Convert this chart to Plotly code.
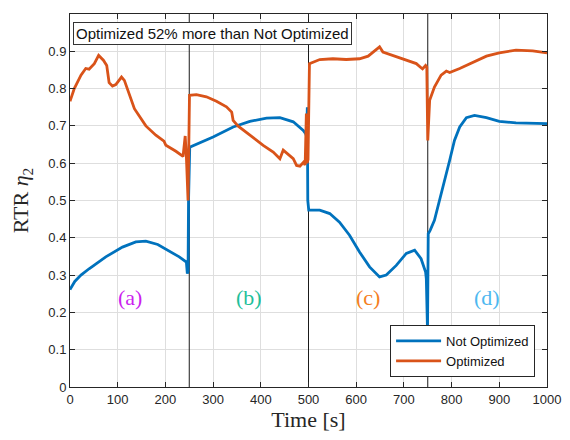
import plotly.graph_objects as go

# ---- data ----
t_not = [0, 10, 23, 40, 75, 110, 138, 159, 184, 208, 229, 244, 246, 247.5, 248.5, 251,
         300, 342, 377, 412, 440, 468, 489, 494, 496, 497.5, 498.5, 500.5,
         523.6, 544.5, 565, 586, 607, 628, 649, 663, 684, 705, 722.5, 736, 745.5, 747,
         748, 749.5, 751, 755, 764, 775, 785, 796, 806, 817, 831, 848, 873, 900, 935, 1000]
y_not = [0.261, 0.283, 0.300, 0.317, 0.349, 0.375, 0.389, 0.391, 0.382, 0.364, 0.349, 0.335, 0.304, 0.31, 0.50, 0.643,
         0.670, 0.697, 0.712, 0.721, 0.722, 0.711, 0.688, 0.679, 0.672, 0.75, 0.50, 0.474,
         0.474, 0.465, 0.442, 0.407, 0.362, 0.322, 0.295, 0.300, 0.326, 0.358, 0.367, 0.344, 0.308, 0.29,
         0.152, 0.15, 0.411, 0.42, 0.447, 0.50, 0.554, 0.608, 0.661, 0.697, 0.722, 0.728, 0.722, 0.712, 0.708, 0.706]

t_opt = [0, 9, 23, 33, 40, 51, 60, 70, 77, 82, 89, 96, 108, 114, 119, 135, 159, 180, 197, 201, 222, 237,
         241.5, 244, 247.5, 249, 250.5, 265, 286, 307, 328, 339, 342, 352, 377, 405, 426, 440, 447, 457,
         468, 475, 482, 490, 493, 495.5, 497, 499, 500.5, 502, 523.6, 551, 579, 607, 625, 639, 649, 656,
         677, 705, 726, 736, 739, 745.5, 748, 750, 754, 764, 778, 789, 796, 817, 845, 873, 900, 935, 970, 1000]
y_opt = [0.766, 0.80, 0.836, 0.854, 0.852, 0.867, 0.889, 0.876, 0.862, 0.816, 0.807, 0.811, 0.831, 0.822, 0.804, 0.746, 0.70, 0.675, 0.659, 0.648, 0.632, 0.618,
         0.673, 0.617, 0.50, 0.62, 0.782, 0.784, 0.778, 0.766, 0.751, 0.737, 0.715, 0.70, 0.675, 0.648, 0.63, 0.612, 0.635, 0.624,
         0.612, 0.594, 0.592, 0.603, 0.595, 0.733, 0.60, 0.61, 0.865, 0.867, 0.878, 0.880, 0.878, 0.880, 0.887, 0.903, 0.912, 0.898,
         0.889, 0.878, 0.867, 0.856, 0.853, 0.862, 0.858, 0.661, 0.769, 0.804, 0.836, 0.847, 0.843, 0.854, 0.871, 0.887, 0.896, 0.903, 0.901, 0.896]

phase_bounds = [250, 500, 750]
phase_labels = ["(a)", "(b)", "(c)", "(d)"]
phase_label_t = [125, 375, 625, 875]
phase_label_y = 0.24
phase_colors = ["#CC1FF0", "#1FBF9A", "#F5801E", "#4DB8F0"]

x_ticks = list(range(0, 1001, 100))
y_ticks = [round(0.1 * i, 1) for i in range(11)]
y_ticktext = ["0"] + ["%.1f" % v for v in y_ticks[1:-1]] + ["1"]

note_text = "Optimized 52% more than Not Optimized"

fig = go.Figure()

for b in phase_bounds:
    fig.add_trace(go.Scatter(x=[b, b], y=[0, 1], mode="lines",
                             line=dict(color="#1a1a1a", width=1), showlegend=False,
                             hoverinfo="skip"))

fig.add_trace(go.Scatter(x=t_not, y=y_not, mode="lines", name="Not Optimized",
                         line=dict(color="#0072BD", width=2.8)))
fig.add_trace(go.Scatter(x=t_opt, y=y_opt, mode="lines", name="Optimized",
                         line=dict(color="#D95319", width=2.8)))

for lab, tx, col in zip(phase_labels, phase_label_t, phase_colors):
    fig.add_annotation(x=tx, y=phase_label_y, xref="x", yref="y", text=lab, showarrow=False,
                       font=dict(family="Liberation Serif", size=22, color=col))

fig.add_annotation(xref="paper", yref="paper", x=0.006, y=0.979, xanchor="left", yanchor="top",
                   text=note_text, showarrow=False, bgcolor="white", bordercolor="#333333",
                   borderwidth=1, borderpad=2,
                   font=dict(family="Liberation Sans", size=15, color="#111111"))

axis_common = dict(showgrid=True, gridcolor="#DEDEDE", gridwidth=1, zeroline=False,
                   showline=True, linecolor="#262626", linewidth=1, mirror="ticks",
                   ticks="inside", ticklen=5, tickcolor="#262626", automargin=False,
                   tickfont=dict(family="Liberation Sans", size=13, color="#262626"))

fig.update_xaxes(range=[0, 1000], tickvals=x_ticks,
                 title=dict(text="Time [s]", font=dict(family="Liberation Serif", size=22, color="#262626"),
                            standoff=4),
                 **axis_common)
fig.update_yaxes(range=[0, 1], tickvals=y_ticks, ticktext=y_ticktext,
                 title=dict(text="RTR <i>η</i><sub>2</sub>",
                            font=dict(family="Liberation Serif", size=22, color="#262626"),
                            standoff=13),
                 **axis_common)

fig.update_layout(
    width=570, height=440,
    margin=dict(l=62, r=31, t=6, b=61),
    plot_bgcolor="white", paper_bgcolor="white",
    legend=dict(x=0.975, y=0.027, xanchor="right", yanchor="bottom",
                bgcolor="white", bordercolor="#262626", borderwidth=1,
                font=dict(family="Liberation Sans", size=13, color="#111111"),
                tracegroupgap=0, itemwidth=45),
)

fig.write_html("out.html")
